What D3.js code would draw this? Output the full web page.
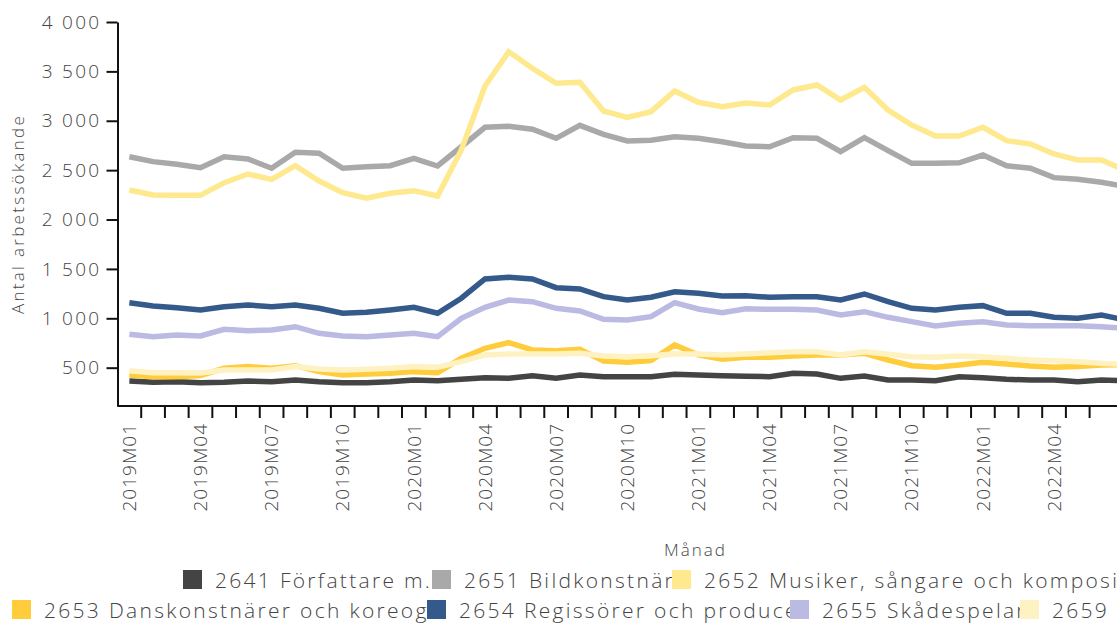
<!DOCTYPE html>
<html>
<head>
<meta charset="utf-8">
<script src="https://cdn.jsdelivr.net/npm/d3@7"></script>
<style>
  body { margin: 0; background: #fff; }
  svg { display: block; overflow: hidden; }
  text { font-family: "Open Sans", sans-serif; font-weight: 300; fill: #444; }
</style>
</head>
<body>
<svg width="1117" height="624"></svg>
<script>
// categories (whole axis of the original chart, the picture is cut at the right)
const months = [
  "2019M01","2019M02","2019M03","2019M04","2019M05","2019M06","2019M07","2019M08","2019M09","2019M10","2019M11","2019M12",
  "2020M01","2020M02","2020M03","2020M04","2020M05","2020M06","2020M07","2020M08","2020M09","2020M10","2020M11","2020M12",
  "2021M01","2021M02","2021M03","2021M04","2021M05","2021M06","2021M07","2021M08","2021M09","2021M10","2021M11","2021M12",
  "2022M01","2022M02","2022M03","2022M04","2022M05","2022M06","2022M07","2022M08","2022M09","2022M10","2022M11","2022M12",
  "2023M01"
];

const yTicks = [500, 1000, 1500, 2000, 2500, 3000, 3500, 4000];

const names = [
  "2641 Författare m.fl.",
  "2651 Bildkonstnärer",
  "2652 Musiker, sångare och kompositörer",
  "2653 Danskonstnärer och koreografer",
  "2654 Regissörer och producenter av film, teater m.m.",
  "2655 Skådespelare",
  "2659 Övriga konstnärer och utövare"
];

// series values, 2019M01 ..
const s2641 = [365,352,358,348,352,365,358,375,358,348,348,358,375,368,382,399,392,419,392,426,409,409,409,433,426,419,412,409,443,436,392,416,375,375,368,409,399,382,375,375,358,375,368];
const s2651 = [2636,2586,2559,2525,2636,2613,2519,2681,2671,2519,2535,2545,2620,2542,2737,2934,2944,2914,2822,2954,2863,2795,2802,2839,2822,2788,2745,2737,2829,2822,2687,2829,2697,2569,2569,2575,2653,2545,2519,2424,2407,2377,2335];
const s2652 = [2299,2248,2245,2245,2373,2461,2407,2545,2390,2272,2215,2266,2292,2238,2704,3352,3699,3531,3379,3389,3099,3035,3092,3301,3187,3142,3180,3160,3312,3362,3210,3339,3109,2957,2846,2846,2934,2798,2765,2664,2603,2603,2499];
const s2653 = [426,409,409,421,494,511,494,520,460,426,436,443,460,449,595,696,753,679,672,686,568,554,571,730,629,585,605,605,618,629,629,646,578,520,504,527,554,537,517,504,511,527,530];
const s2654 = [1158,1125,1107,1084,1117,1135,1117,1135,1101,1051,1061,1084,1111,1051,1203,1398,1415,1398,1310,1297,1219,1185,1213,1269,1253,1226,1229,1213,1219,1219,1185,1246,1168,1101,1084,1111,1128,1051,1051,1010,1000,1034,983];
const s2655 = [838,814,831,821,889,875,882,915,848,821,814,831,848,814,1000,1111,1185,1168,1101,1074,990,983,1016,1158,1094,1057,1096,1091,1091,1084,1033,1067,1010,966,922,949,966,932,925,925,925,915,900];
const s2659 = [469,449,449,446,477,477,477,511,487,477,483,494,511,504,561,629,639,639,639,646,618,611,622,639,639,629,639,652,662,662,629,662,636,611,605,618,611,595,578,571,561,544,534];

const colors = ["#444444", "#a9a9a9", "#fee98f", "#ffcd3c", "#34598b", "#babae3", "#fff2c2"];
const seriesValues = [s2641, s2651, s2652, s2653, s2654, s2655, s2659];

// dimensions
const width = 1117;
const plotLeft = 117.5, plotTop = 22, plotBottom = 406;
const step = 23.71;

const svg = d3.select("svg");
const defs = svg.append("defs");

const x = d3.scaleBand()
    .domain(months)
    .range([plotLeft, plotLeft + step * months.length])
    .padding(0);

const y = d3.scaleLinear()
    .domain([112, 4000])
    .range([plotBottom, plotTop]);

// lines
const line = d3.line()
    .x((d, i) => x(months[i]) + x.bandwidth() / 2)
    .y(d => y(d));

svg.selectAll(".series")
    .data(seriesValues)
    .enter().append("path")
    .attr("class", "series")
    .attr("fill", "none")
    .attr("stroke", (d, i) => colors[i])
    .attr("stroke-width", 5.5)
    .attr("d", line);

// y-axis
const yAxis = svg.append("g")
    .attr("transform", `translate(${plotLeft},0)`)
    .call(d3.axisLeft(y)
        .tickValues(yTicks)
        .tickSize(11)
        .tickSizeOuter(0)
        .tickPadding(7)
        .tickFormat(d => d3.format(",")(d).replace(",", " ")));
yAxis.select(".domain").attr("stroke", "#111").attr("stroke-width", 2);
yAxis.selectAll(".tick line").attr("stroke", "#111").attr("stroke-width", 2);
yAxis.selectAll(".tick text")
    .style("font-size", "19px")
    .style("letter-spacing", "2.3px")
    .style("font-family", "'Open Sans', sans-serif")
    .attr("dx", "2px")
    .attr("fill", "#444");

// x-axis line and month ticks (at band edges), only the part inside the picture
const visibleMonths = months.filter(m => x(m) + x.bandwidth() / 2 < width);

svg.append("line")
    .attr("x1", plotLeft).attr("x2", width)
    .attr("y1", plotBottom).attr("y2", plotBottom)
    .attr("stroke", "#111").attr("stroke-width", 2);

svg.selectAll(".mtick")
    .data(visibleMonths.slice(1))
    .enter().append("line")
    .attr("class", "mtick")
    .attr("x1", d => x(d)).attr("x2", d => x(d))
    .attr("y1", plotBottom).attr("y2", plotBottom + 12)
    .attr("stroke", "#111").attr("stroke-width", 2);

svg.selectAll(".mlabel")
    .data(visibleMonths.filter((d, i) => i % 3 === 0))
    .enter().append("text")
    .attr("class", "mlabel")
    .attr("transform", d => `translate(${x(d) + x.bandwidth() / 2},${plotBottom + 17}) rotate(-90)`)
    .attr("text-anchor", "end")
    .attr("dy", "0.35em")
    .style("font-size", "19px")
    .style("letter-spacing", "1px")
    .text(d => d);

// axis labels
svg.append("text")
    .attr("transform", `translate(24,${(plotTop + plotBottom) / 2}) rotate(-90)`)
    .attr("text-anchor", "middle")
    .style("font-size", "17px")
    .style("letter-spacing", "2.3px")
    .text("Antal arbetssökande");

svg.append("text")
    .attr("x", (x.range()[0] + x.range()[1]) / 2 - 3)
    .attr("y", 556)
    .attr("text-anchor", "middle")
    .style("font-size", "17px")
    .style("letter-spacing", "2px")
    .text("Månad");

// legend: fixed item slots, the next symbol covers the end of a long name
const legendPos = [[183, 570], [432, 570], [672, 570], [12, 600], [427, 600], [790, 600], [1020, 600]];

const slotWidth = legendPos.map((p, i) => {
    const next = legendPos[i + 1];
    return next && next[1] === p[1] ? next[0] - p[0] : width - p[0];
});

legendPos.forEach((p, i) => {
    defs.append("clipPath")
        .attr("id", `legclip${i}`)
        .append("rect")
        .attr("x", 0).attr("y", -5)
        .attr("width", slotWidth[i]).attr("height", 32);
});

const legend = svg.selectAll(".leg")
    .data(names)
    .enter().append("g")
    .attr("class", "leg")
    .attr("transform", (d, i) => `translate(${legendPos[i][0]},${legendPos[i][1]})`);

legend.append("text")
    .attr("x", 32)
    .attr("y", 18)
    .attr("clip-path", (d, i) => `url(#legclip${i})`)
    .style("font-size", "21px")
    .style("letter-spacing", "2.3px")
    .text(d => d);

legend.append("rect")
    .attr("width", 19).attr("height", 19)
    .attr("fill", (d, i) => colors[i]);
</script>
</body>
</html>
